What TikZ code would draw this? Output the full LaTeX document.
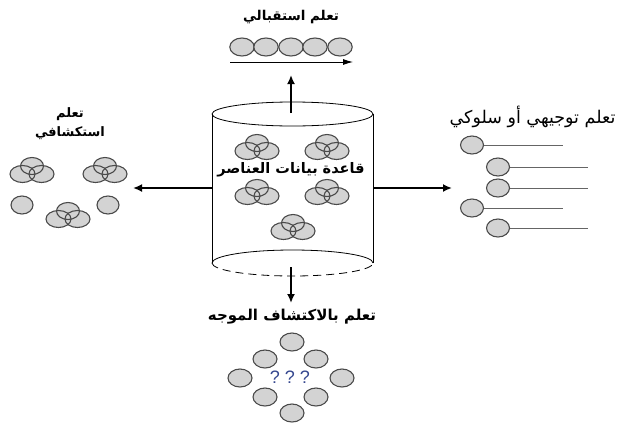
\documentclass[tikz,border=0pt]{standalone}
\usepackage{fontspec}
\setmainfont{Liberation Sans}
\newfontfamily\arabicfont[Script=Arabic]{DejaVu Sans}
\TeXXeTstate=1
\usetikzlibrary{arrows.meta}

\definecolor{itemfill}{HTML}{D3D3D3}
\definecolor{itemline}{HTML}{4A4A4A}
\definecolor{qcolor}{HTML}{35478F}

\tikzset{
  item/.style={fill=itemfill, draw=itemline, line width=1.1pt},
  bigarrow/.style={line width=1.8pt, -{Latex[length=9pt,width=8pt]}},
  label/.style={font=\arabicfont\bfseries\fontsize{#1}{#1}\selectfont},
  label/.default=14,
  trefoil/.pic={
    \fill[itemfill] (0,-4) ellipse [x radius=11.5pt, y radius=8.5pt];
    \fill[itemfill] (-9.5,4) ellipse [x radius=12.5pt, y radius=8.5pt];
    \fill[itemfill] (9.5,4) ellipse [x radius=12.5pt, y radius=8.5pt];
    \draw[itemline, line width=1.1pt] (0,-4) ellipse [x radius=11.5pt, y radius=8.5pt];
    \draw[itemline, line width=1.1pt] (-9.5,4) ellipse [x radius=12.5pt, y radius=8.5pt];
    \draw[itemline, line width=1.1pt] (9.5,4) ellipse [x radius=12.5pt, y radius=8.5pt];
  }
}

\begin{document}
\begin{tikzpicture}[x=1pt, y=-1pt]
\useasboundingbox (0,0) rectangle (617,426);

% Cilindro (base de datos)
\draw[line width=0.8pt] (212,114) -- (212,263);
\draw[line width=0.8pt] (373,114) -- (373,263);
\draw[line width=0.8pt] (292.5,114) ellipse [x radius=80.5pt, y radius=12pt];
\draw[line width=0.8pt] (212,263) arc [start angle=180, end angle=360, x radius=80.5pt, y radius=-13pt];
\draw[line width=0.8pt, dash pattern=on 8pt off 5pt] (212,263) arc [start angle=180, end angle=0, x radius=80.5pt, y radius=-13pt];

\coordinate (dbtop) at (291,113);
\coordinate (dbbottom) at (291,267);
\coordinate (dbleft) at (212,188);
\coordinate (dbright) at (373,188);

% Elementos dentro del cilindro
\pic at (257,147) {trefoil};
\pic at (327,147) {trefoil};
\pic at (257,192) {trefoil};
\pic at (327,192) {trefoil};
\pic at (293,227) {trefoil};
\node[label=14.5] (dbtext) at (291,170) {\beginR قاعدة بيانات العناصر\endR};

% Flechas
\coordinate (uptip) at (291,75);
\coordinate (downtip) at (291,303);
\coordinate (lefttip) at (133,188);
\coordinate (righttip) at (452,188);
\draw[bigarrow] (dbtop) -- (uptip);
\draw[bigarrow] (dbbottom) -- (downtip);
\draw[bigarrow] (dbleft) -- (lefttip);
\draw[bigarrow] (dbright) -- (righttip);

% Aprendizaje receptivo (arriba)
\node[label=13.5] (toplabel) at (291,17) {\beginR تعلم استقبالي\endR};
\foreach \x in {242,266,291,315,340}
  \draw[item] (\x,47) ellipse [x radius=12.2pt, y radius=9pt];
\coordinate (rowstart) at (230,62);
\coordinate (rowend) at (353,62);
\draw[line width=0.9pt, -{Latex[length=10pt,width=6pt]}] (rowstart) -- (rowend);

% Aprendizaje exploratorio (izquierda)
\node[label=13, align=center] (leftlabel) at (70,124) {\beginR تعلم\endR\\[5pt]\beginR استكشافي\endR};
\pic at (32,170) {trefoil};
\pic at (105,170) {trefoil};
\pic at (68,215) {trefoil};
\draw[item] (22,205) ellipse [x radius=11pt, y radius=9pt];
\draw[item] (108,205) ellipse [x radius=11pt, y radius=9pt];

% Aprendizaje dirigido (derecha)
\node[font=\arabicfont\fontsize{17.5}{17.5}\selectfont] (rightlabel) at (532.5,117) {\beginR تعلم توجيهي أو سلوكي\endR};
\foreach \x/\y/\e in {472/145/563, 498/167/588, 498/188/588, 472/208/563, 498/228/588} {
  \draw[itemline!85, line width=0.8pt] (\x+11.5,\y) -- (\e,\y);
  \draw[item] (\x,\y) ellipse [x radius=11.5pt, y radius=9pt];
}

% Descubrimiento guiado (abajo)
\node[label=15] (bottomlabel) at (292,317) {\beginR تعلم بالاكتشاف الموجه\endR};
\foreach \x/\y in {292/342, 265/359, 316/359, 240/378, 342/378, 265/397, 316/397, 292/413}
  \draw[item] (\x,\y) ellipse [x radius=12pt, y radius=9pt];
\node[text=qcolor, font=\fontsize{18}{20}\selectfont] (qmarks) at (290,377) {?\hspace{5pt}?\hspace{5pt}?};

\end{tikzpicture}
\end{document}
